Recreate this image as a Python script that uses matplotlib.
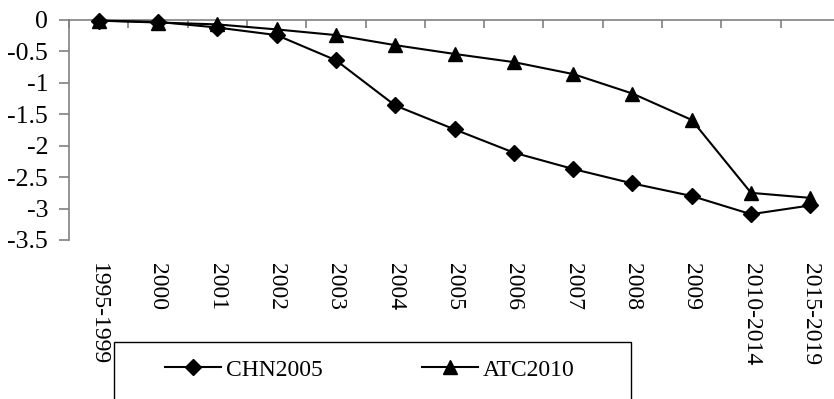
import numpy as np
import matplotlib
matplotlib.use('Agg')
import matplotlib.pyplot as plt
from matplotlib.patches import Rectangle

plt.rcParams['font.family'] = ['Liberation Serif', 'DejaVu Serif']

periods = ['1995-1999', '2000', '2001', '2002', '2003', '2004', '2005',
           '2006', '2007', '2008', '2009', '2010-2014', '2015-2019']
chn2005 = [-0.01, -0.03, -0.12, -0.24, -0.64, -1.36, -1.74,
           -2.11, -2.37, -2.60, -2.80, -3.09, -2.95]
atc2010 = [-0.01, -0.04, -0.07, -0.15, -0.24, -0.40, -0.54,
           -0.67, -0.86, -1.17, -1.59, -2.75, -2.83]
yticks = [0, -0.5, -1, -1.5, -2, -2.5, -3, -3.5]
ytick_labels = ['0', '-0.5', '-1', '-1.5', '-2', '-2.5', '-3', '-3.5']

W, H = 834, 399
fig = plt.figure(figsize=(W / 100, H / 100), dpi=100)
ax = fig.add_axes([69 / W, 1 - 240 / H, 771 / W, 220 / H])

x = np.arange(len(periods))
l1, = ax.plot(x, chn2005, color='black', lw=1.5, marker='D', markersize=8,
              clip_on=False, label='CHN2005', zorder=4)
l2, = ax.plot(x, atc2010, color='black', lw=1.5, marker='^', markersize=9.5,
              clip_on=False, label='ATC2010', zorder=3)

ax.set_xlim(-0.5, len(periods) - 0.5)
ax.set_ylim(-3.5, 0)

grey = '#808080'
for s in ['bottom', 'right']:
    ax.spines[s].set_visible(False)
for s in ['top', 'left']:
    ax.spines[s].set_color(grey)
    ax.spines[s].set_linewidth(1.2)

ax.set_yticks(yticks)
ax.set_yticklabels(ytick_labels, fontsize=18.5)
ax.tick_params(axis='y', direction='out', length=7, width=1.2, color=grey, pad=8)

ax.set_xticks(x)
ax.set_xticklabels(periods, rotation=-90, fontsize=17)
ax.tick_params(axis='x', which='major', bottom=True, top=False, length=0, pad=16.5)
ax.set_xticks(np.arange(-0.5, len(periods), 1), minor=True)
ax.tick_params(axis='x', which='minor', bottom=False, top=True, direction='in',
               length=6, width=1.2, color=grey)

# legend box (runs off the bottom of the image)
fig.add_artist(Rectangle((114 / W, -0.1), (631 - 114) / W, (1 - 342 / H) + 0.1,
                         transform=fig.transFigure, fill=False,
                         edgecolor='black', lw=1))
fig.legend(handles=[l1, l2], loc='center left', ncol=2, frameon=False,
           bbox_to_anchor=(165 / W, 1 - 370 / H), borderpad=0, borderaxespad=0,
           fontsize=17, handlelength=2.37, handletextpad=0.2, columnspacing=4.2)

fig.savefig('out.png', dpi=100)
